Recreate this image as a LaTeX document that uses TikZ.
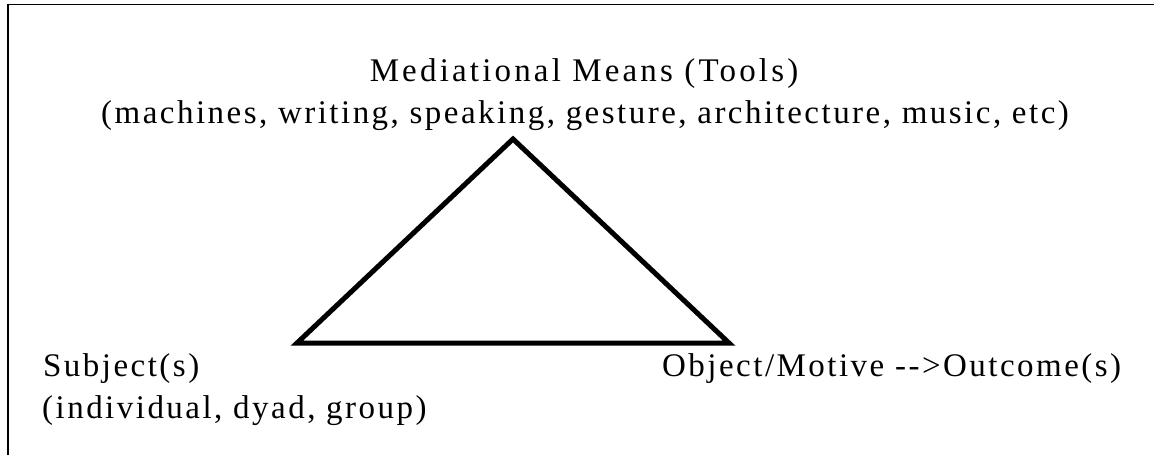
\documentclass[tikz,border=0pt]{standalone}
\usepackage{fontspec}
\setmainfont{Liberation Serif}[LetterSpace=7.5]
\begin{document}
\begin{tikzpicture}[x=1pt,y=-1pt,
  lbl/.style={inner sep=0pt,font=\fontsize{33}{38}\selectfont},
  wide/.style={font=\fontsize{33}{38}\selectfont\addfontfeature{LetterSpace=9.6}},
  edge/.style={line width=5pt,miter limit=10,line join=miter},
  frame/.style={line width=1.5pt}]
\useasboundingbox (0,0) rectangle (1154,455);
% partial frame along the top and left
\coordinate (ftl) at (8,4.5);
\coordinate (fbl) at (8,455);
\coordinate (ftr) at (1154,4.5);
\draw[frame] (fbl) -- (ftl) -- (ftr);
% triangle corners
\coordinate (tool) at (513,139);
\coordinate (subj) at (297,343);
\coordinate (obj) at (729,343);
\draw[edge] (tool) -- (subj) -- (obj) -- cycle;
% labels
\node[lbl,wide,anchor=base] (toolA) at (584,81) {Mediational Means (Tools)};
\node[lbl,anchor=base] (toolB) at (585,123) {(machines, writing, speaking, gesture, architecture, music, etc)};
\node[lbl,anchor=base west] (subjA) at (43,376) {Subject(s)};
\node[lbl,anchor=base west] (subjB) at (42,418) {(individual, dyad, group)};
\node[lbl,anchor=base west] (objA) at (662,376) {Object/Motive -{}->Outcome(s)};
\end{tikzpicture}
\end{document}
